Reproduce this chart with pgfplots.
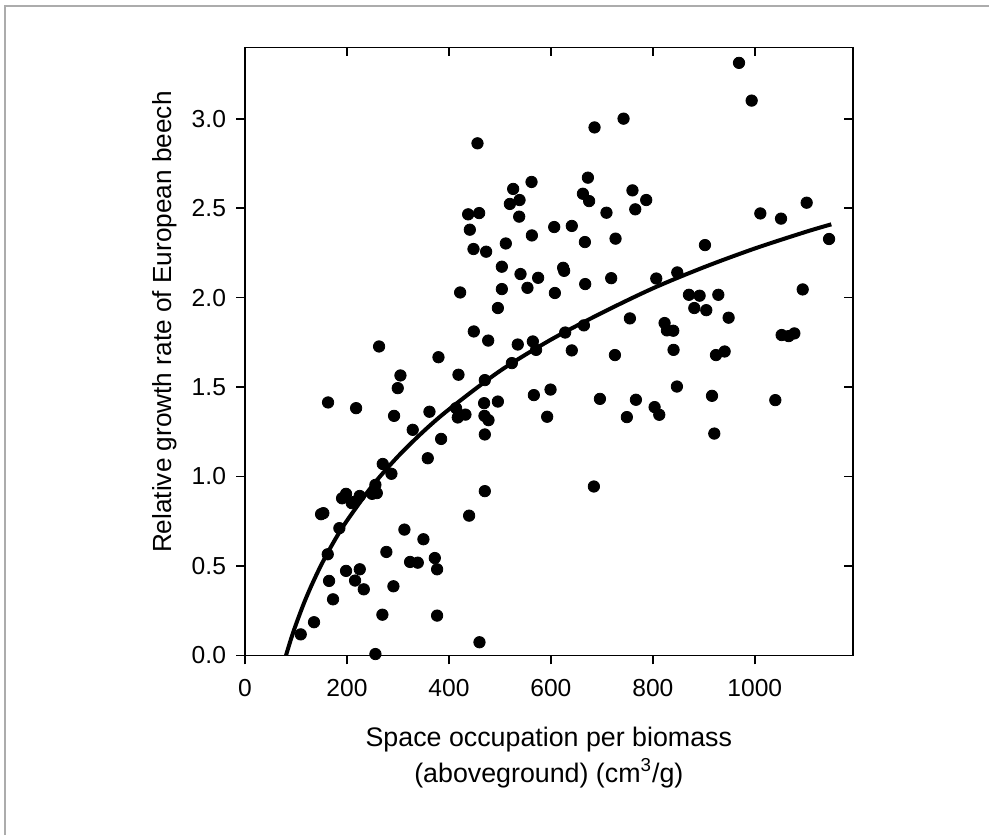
\documentclass[border=0pt]{standalone}
\usepackage{fontspec}
\setmainfont{Liberation Sans}
\usepackage{pgfplots}
\pgfplotsset{compat=1.18}
\pgfplotsset{
  baseax/.style={
    at={(0pt,0pt)}, anchor=south west,
    scale only axis, width=303.85pt, height=304pt,
    xmin=0, xmax=1192, ymin=0, ymax=3.4,
    xtick={0,200,400,600,800,1000},
    ytick={0,0.5,1,1.5,2,2.5,3},
    axis line style={black, line width=0.8pt},
    major tick length=4.5pt,
    every tick/.style={black, line width=0.8pt},
  }
}
\begin{document}
\begin{tikzpicture}
\useasboundingbox (-122.5pt,-89.85pt) rectangle (372pt,327.65pt);
\draw[gray!65, line width=1pt] (-120.15pt,-89.85pt) -- (-120.15pt,324.8pt) -- (372pt,324.8pt);
% inward ticks on top and right
\begin{axis}[baseax,
  xtick pos=right, ytick pos=right, tick align=inside,
  xticklabels={}, yticklabels={}]
\end{axis}
\begin{axis}[baseax,
  xtick pos=left, ytick pos=left, tick align=outside,
  clip=false,
  /pgf/number format/assume math mode=true,
  /pgf/number format/1000 sep={},
  xticklabel style={font=\fontsize{12.3}{14}\selectfont, black, yshift=-4pt},
  yticklabel style={font=\fontsize{12.3}{14}\selectfont, black, xshift=-1.5pt, /pgf/number format/fixed, /pgf/number format/fixed zerofill, /pgf/number format/precision=1},
  xlabel={Space occupation per biomass\\(aboveground) (cm\textsuperscript{3}/g)},
  xlabel style={at={(axis description cs:0.5,-0.168)}, anchor=center, align=center, font=\fontsize{13.4}{18}\selectfont},
  ylabel={Relative growth rate of European beech},
  ylabel style={at={(axis description cs:-0.132,0.548)}, anchor=center, font=\fontsize{13.1}{18}\selectfont},
]
\addplot[only marks, mark=*, mark size=2.85pt, black] coordinates {
(263,1.727) (379.5,1.667) (456,2.863) (562,2.647) (526,2.608) (519.5,2.524)
(538.5,2.546) (437.7,2.466) (459.3,2.473) (537.8,2.453) (441,2.380) (562.7,2.348)
(511.6,2.303) (448.2,2.272) (473,2.257) (503.8,2.173) (540.4,2.132) (575,2.111)
(503.8,2.048) (554,2.055) (422,2.029) (496,1.942) (448.8,1.811) (477,1.760)
(535,1.738) (564.6,1.755) (571,1.708)
(969,3.313) (993.8,3.102) (742.5,3.001) (685.6,2.952) (672.6,2.671) (662.8,2.581)
(675,2.540) (760,2.600) (765.5,2.494) (787,2.546) (709,2.475) (606.5,2.395)
(641,2.401) (666.7,2.311) (726.8,2.330) (1010.8,2.471) (1051.4,2.442) (1101.7,2.531)
(1145.6,2.328) (902.2,2.294) (624,2.167) (626,2.150) (607.8,2.026) (667.3,2.076)
(718.3,2.109) (806.7,2.107) (847.9,2.141) (870.8,2.016) (891.7,2.011) (928.4,2.016)
(881.3,1.942) (904.8,1.930) (948.6,1.888) (1093.9,2.046) (755,1.884) (664.7,1.845)
(628,1.805) (823,1.858) (827.6,1.817) (840,1.815) (1052.6,1.791) (1066.4,1.785)
(1077.5,1.800) (641,1.705) (725.6,1.679) (840.6,1.708) (923.8,1.679) (940.8,1.699)
(599.3,1.486) (592.7,1.334) (696.2,1.434) (766.8,1.429) (749,1.332) (803.4,1.388)
(812.6,1.345) (847.2,1.503) (916,1.451) (920.5,1.240) (1040.2,1.427) (684.3,0.944)
(162.9,1.414) (217.9,1.382) (304.9,1.565) (299.6,1.494) (418.7,1.569) (292.4,1.339)
(361.8,1.362) (329,1.261) (384.7,1.210) (358.5,1.102) (470.4,1.539) (469,1.410)
(496,1.419) (414,1.382) (417.4,1.330) (432.4,1.346) (469.7,1.339) (477.6,1.315)
(470.4,1.235) (523.4,1.634) (566.6,1.455) (470.4,0.918) (439.6,0.781) (270.2,1.070)
(287.2,1.015) (255.8,0.953) (249.3,0.903) (258.5,0.907) (225,0.891) (214,0.858)
(209.4,0.851) (190.4,0.878) (198.2,0.903) (149.2,0.789) (153.7,0.795) (185.1,0.711)
(162.3,0.565) (164.9,0.416) (172.7,0.313) (135.4,0.185) (109.3,0.117) (198.2,0.472)
(215.9,0.418) (225.1,0.481) (233,0.369) (255.8,0.007) (269.5,0.227) (277.3,0.578)
(291.1,0.386) (312.7,0.703) (323.8,0.522) (338.9,0.518) (350,0.649) (372.3,0.544)
(376.8,0.481) (376.8,0.222) (459.9,0.073)
};
\addplot[black, line width=2pt, smooth] coordinates {
(80.5,0) (90,0.089) (100,0.173) (115,0.287) (130,0.388) (150,0.508) (175,0.639)
(200,0.753) (250,0.949) (300,1.112) (350,1.252) (400,1.375) (500,1.590) (600,1.765)
(700,1.915) (800,2.052) (900,2.170) (1000,2.275) (1100,2.368) (1150,2.410)
};
\end{axis}
\end{tikzpicture}
\end{document}
